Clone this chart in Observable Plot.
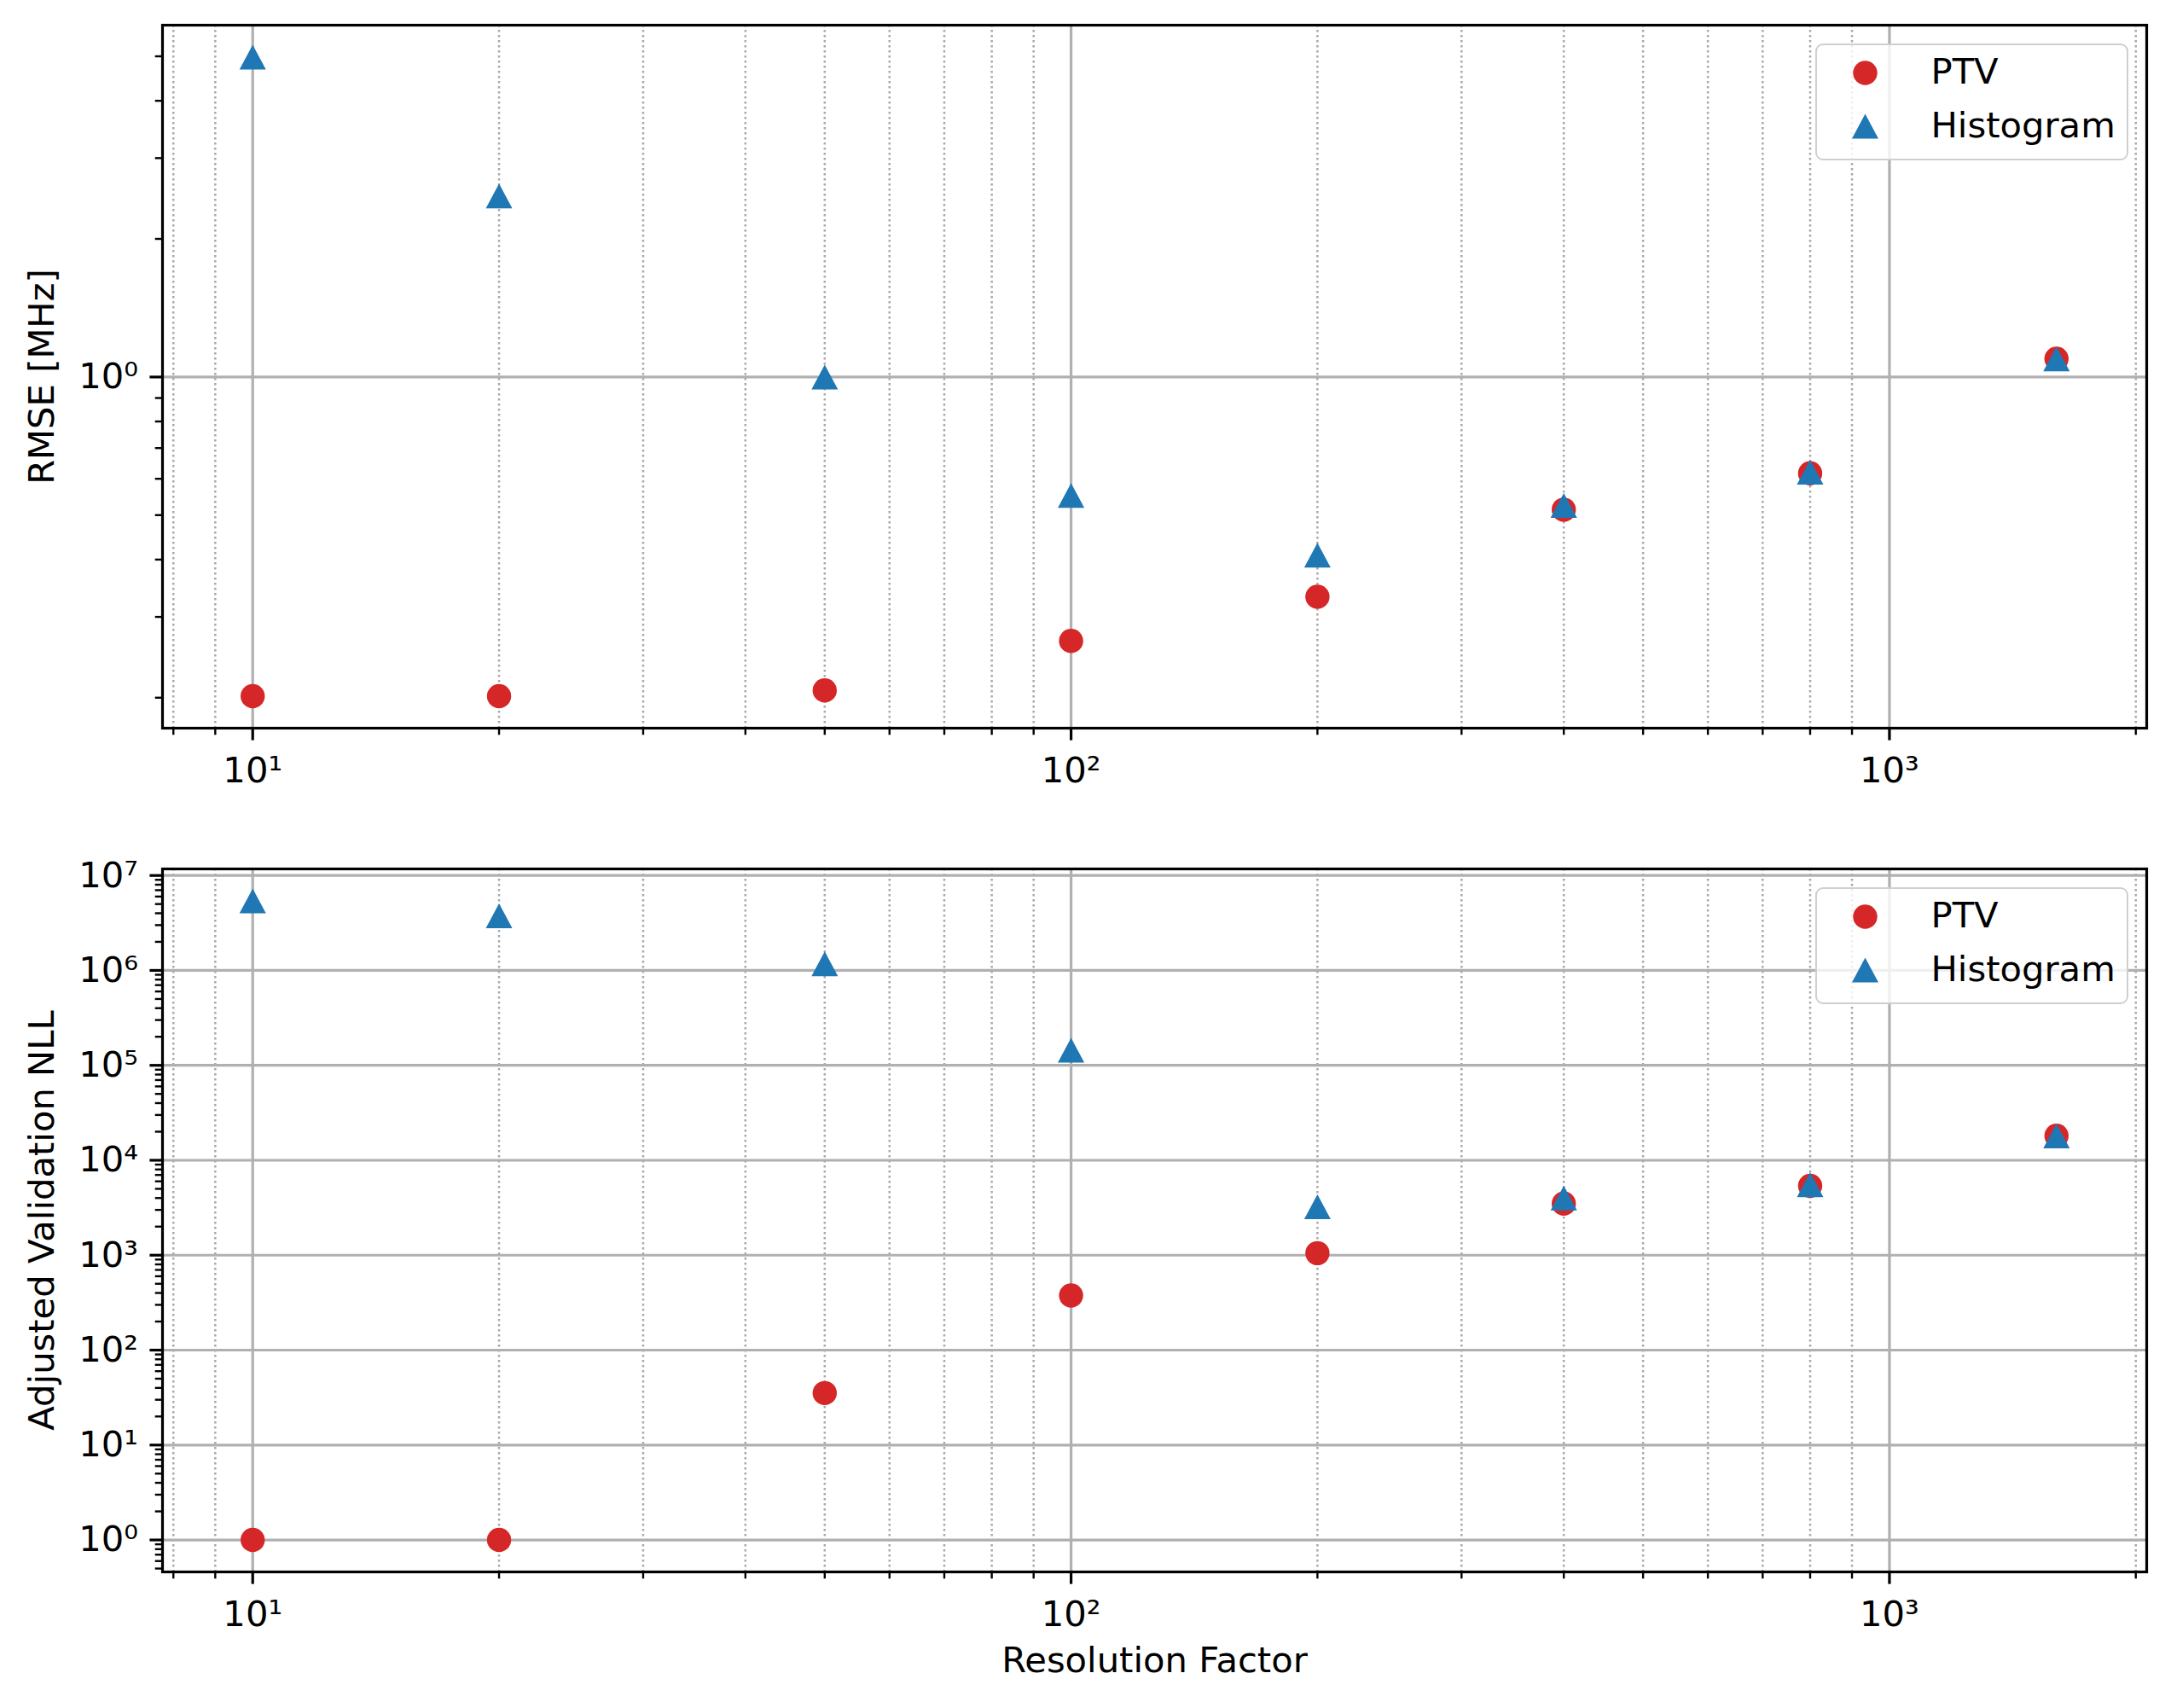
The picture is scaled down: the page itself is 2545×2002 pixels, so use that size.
<!DOCTYPE html>
<html>
<head>
<meta charset="utf-8">
<script src="https://cdn.jsdelivr.net/npm/d3@7"></script>
<script src="https://cdn.jsdelivr.net/npm/@observablehq/plot@0.6"></script>
<style>
  html, body { margin: 0; padding: 0; background: white; }
  #page { position: relative; width: 2545px; height: 2002px; background: white; font-family: "DejaVu Sans", sans-serif; }
  .panel { position: absolute; left: 0; }
  .legend { position: absolute; box-sizing: border-box; border: 2.5px solid #cfcfcf; border-radius: 9px; background: rgba(255,255,255,0.8); }
  .legend .lbl { position: absolute; font-size: 41.7px; line-height: 1; color: black; white-space: nowrap; }
  .legend svg { position: absolute; left: 0; top: 0; overflow: visible; }
</style>
</head>
<body>
<div id="page"></div>
<script>
// ---------------- data ----------------
const resolution = [10, 20, 50, 100, 200, 400, 800, 1600];
const rmsePTV  = [0.2015, 0.2015, 0.2075, 0.266, 0.332, 0.514, 0.617, 1.096];
const rmseHist = [4.98, 2.48, 1.00, 0.552, 0.409, 0.525, 0.620, 1.095];
const nllPTV   = [1, 1, 35.3, 376, 1051, 3500, 5370, 18100];
const nllHist  = [5.4e6, 3.76e6, 1.17e6, 1.44e5, 3240, 4010, 5520, 18000];

const seriesNames = ["PTV", "Histogram"];
const seriesColors = ["#d62728", "#1f77b4"];

const xMajorTicks  = [10, 100, 1000];
const xMajorLabels = ["10¹", "10²", "10³"];
const xMinorTicks  = [8, 9, 20, 30, 40, 50, 60, 70, 80, 90, 200, 300, 400, 500, 600, 700, 800, 900, 2000];

const rmseMajorTicks  = [1];
const rmseMajorLabels = ["10⁰"];
const rmseMinorTicks  = [0.2, 0.3, 0.4, 0.5, 0.6, 0.7, 0.8, 0.9, 2, 3, 4, 5];

const nllMajorTicks  = [1, 10, 100, 1e3, 1e4, 1e5, 1e6, 1e7];
const nllMajorLabels = ["10⁰", "10¹", "10²", "10³", "10⁴", "10⁵", "10⁶", "10⁷"];
const minorSubdivisions = [2, 3, 4, 5, 6, 7, 8, 9];
const nllMinorTicks = [0.5, 0.6, 0.7, 0.8, 0.9];
for (const dec of [1, 10, 100, 1e3, 1e4, 1e5, 1e6]) for (const m of minorSubdivisions) nllMinorTicks.push(m * dec);

// ---------------- helpers ----------------
const FS = 41.7;
const GRID = "#b0b0b0";
const triangle = {
  draw(ctx, size) {
    const r = Math.sqrt(size / Math.PI);
    ctx.moveTo(0, -r);
    ctx.lineTo(1.07 * r, r);
    ctx.lineTo(-1.07 * r, r);
    ctx.closePath();
  }
};

// matplotlib-like 5% margins in log space
function logDomain(values) {
  const lo = Math.log10(d3.min(values)), hi = Math.log10(d3.max(values));
  const m = 0.05 * (hi - lo);
  return [Math.pow(10, lo - m), Math.pow(10, hi + m)];
}

const xDomain = logDomain(resolution);

function panel({ptv, hist, yMajor, yMajorLabels, yMinor, yLabel, xLabel, height, marginTop, marginBottom}) {
  const table = resolution.map((r, i) => ({res: r, ptv: ptv[i], hist: hist[i]}));
  const yDomain = logDomain([...ptv, ...hist]);
  return Plot.plot({
    width: 2545,
    height,
    marginLeft: 190,
    marginRight: 29,
    marginTop,
    marginBottom,
    x: {type: "log", domain: xDomain},
    y: {type: "log", domain: yDomain},
    style: {fontFamily: "DejaVu Sans", fontSize: FS + "px", color: "black", background: "white", overflow: "visible"},
    marks: [
      Plot.gridX(xMinorTicks, {stroke: "#a8a8a8", strokeOpacity: 1, strokeWidth: 2.5, strokeDasharray: "2.5,3.5"}),
      Plot.gridX(xMajorTicks, {stroke: GRID, strokeOpacity: 1, strokeWidth: 3.2}),
      Plot.gridY(yMajor, {stroke: GRID, strokeOpacity: 1, strokeWidth: 3.2}),
      Plot.dot(table, {x: "res", y: "ptv", r: 14.2, fill: seriesColors[0], stroke: "none", symbol: "circle"}),
      Plot.dot(table, {x: "res", y: "hist", r: 14.5, fill: seriesColors[1], stroke: "none", symbol: triangle}),
      Plot.axisX(xMajorTicks, {
        tickSize: 14.6, tickPadding: 19, strokeWidth: 3.2, fontSize: FS,
        tickFormat: d => xMajorLabels[xMajorTicks.indexOf(d)],
        label: xLabel, labelAnchor: "center", labelOffset: 117, labelArrow: "none"
      }),
      Plot.axisX(xMinorTicks, {tickSize: 8.3, strokeWidth: 2.4, tickFormat: () => "", label: null}),
      Plot.axisY(yMajor, {
        tickSize: 14.6, tickPadding: 14, strokeWidth: 3.2, fontSize: FS,
        tickFormat: d => yMajorLabels[yMajor.indexOf(d)],
        label: yLabel, labelAnchor: "center", labelOffset: 157, labelArrow: "none"
      }),
      Plot.axisY(yMinor, {tickSize: 8.3, strokeWidth: 2.4, tickFormat: () => "", label: null}),
      Plot.frame({stroke: "black", strokeWidth: 3.2})
    ]
  });
}

function legend(frameTop) {
  const div = document.createElement("div");
  div.className = "legend";
  const left = 2128, w = 367, h = 137;
  div.style.left = left + "px";
  div.style.top = (frameTop + 21.5) + "px";
  div.style.width = w + "px";
  div.style.height = h + "px";
  const rowsY = [35 - 2.5, 97.5 - 2.5];
  const svgNS = "http://www.w3.org/2000/svg";
  const svg = document.createElementNS(svgNS, "svg");
  svg.setAttribute("width", w);
  svg.setAttribute("height", h);
  const c = document.createElementNS(svgNS, "circle");
  c.setAttribute("cx", 59 - 2.5); c.setAttribute("cy", rowsY[0]); c.setAttribute("r", 14.2);
  c.setAttribute("fill", seriesColors[0]);
  svg.appendChild(c);
  const t = document.createElementNS(svgNS, "path");
  const cx = 59 - 2.5, cy = rowsY[1], r = 14.5;
  t.setAttribute("d", `M${cx},${cy - r}L${cx + 1.07 * r},${cy + r}L${cx - 1.07 * r},${cy + r}Z`);
  t.setAttribute("fill", seriesColors[1]);
  svg.appendChild(t);
  div.appendChild(svg);
  seriesNames.forEach((name, i) => {
    const s = document.createElement("div");
    s.className = "lbl";
    s.textContent = name;
    s.style.left = (136 - 2.5) + "px";
    s.style.top = (rowsY[i] - 0.5 * FS * 1.0 - 1) + "px";
    div.appendChild(s);
  });
  return div;
}

const page = document.getElementById("page");

const topPlot = panel({
  ptv: rmsePTV, hist: rmseHist,
  yMajor: rmseMajorTicks, yMajorLabels: rmseMajorLabels, yMinor: rmseMinorTicks,
  yLabel: "RMSE [MHz]", xLabel: null,
  height: 960, marginTop: 29, marginBottom: 107
});
topPlot.classList.add("panel");
topPlot.style.top = "0px";
page.appendChild(topPlot);
page.appendChild(legend(29));

const bottomPlot = panel({
  ptv: nllPTV, hist: nllHist,
  yMajor: nllMajorTicks, yMajorLabels: nllMajorLabels, yMinor: nllMinorTicks,
  yLabel: "Adjusted Validation NLL", xLabel: "Resolution Factor",
  height: 1042, marginTop: 58, marginBottom: 160
});
bottomPlot.classList.add("panel");
bottomPlot.style.top = "960px";
page.appendChild(bottomPlot);
page.appendChild(legend(1018));
</script>
</body>
</html>
